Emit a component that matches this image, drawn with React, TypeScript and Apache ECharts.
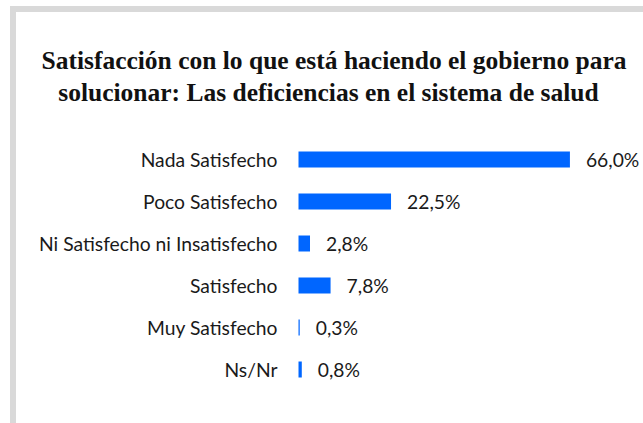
import React, { useEffect, useRef } from "react";
import * as echarts from "echarts";

const categories = [
  "Nada Satisfecho",
  "Poco Satisfecho",
  "Ni Satisfecho ni Insatisfecho",
  "Satisfecho",
  "Muy Satisfecho",
  "Ns/Nr",
];
const values = [66.0, 22.5, 2.8, 7.8, 0.3, 0.8];
const titleLine1 = "Satisfacción con lo que está haciendo el gobierno para";
const titleLine2 = "solucionar: Las deficiencias en el sistema de salud";

export default function App() {
  const ref = useRef<HTMLDivElement>(null);
  useEffect(() => {
    if (!ref.current) return;
    const chart = echarts.init(ref.current, null, { renderer: "svg" });
    const titleFont = "bold 25.5px 'Liberation Serif', serif";
    chart.setOption({
      animation: false,
      backgroundColor: "#ffffff",
      graphic: [
        { type: "rect", shape: { x: 10, y: 6, width: 633, height: 6 }, style: { fill: "#d9d9d9" }, silent: true },
        { type: "rect", shape: { x: 10, y: 6, width: 6, height: 417 }, style: { fill: "#d9d9d9" }, silent: true },
        {
          type: "text",
          x: 334,
          y: 60,
          style: { text: titleLine1, fill: "#111111", font: titleFont, align: "center", verticalAlign: "middle" },
        },
        {
          type: "text",
          x: 328.5,
          y: 92.5,
          style: { text: titleLine2, fill: "#111111", font: titleFont, align: "center", verticalAlign: "middle" },
        },
      ],
      grid: { left: 298.5, top: 138.5, height: 252, right: 15.5 },
      xAxis: {
        type: "value",
        min: 0,
        max: 80,
        show: false,
      },
      yAxis: {
        type: "category",
        data: categories,
        inverse: true,
        axisLine: { show: false },
        axisTick: { show: false },
        axisLabel: {
          margin: 21,
          color: "#1a1a1a",
          fontFamily: "Lato",
          fontSize: 19.3,
        },
      },
      series: [
        {
          type: "bar",
          data: values,
          barWidth: 16,
          itemStyle: { color: "#0066ff" },
          label: {
            show: true,
            position: "right",
            distance: 16,
            color: "#1a1a1a",
            fontFamily: "Lato",
            fontSize: 19.3,
            formatter: (p: any) => p.value.toFixed(1).replace(".", ",") + "%",
          },
        },
      ],
    });
    return () => chart.dispose();
  }, []);
  return (
    <div
      ref={ref}
      style={{ position: "fixed", left: 0, top: 0, width: 643, height: 423 }}
    />
  );
}
